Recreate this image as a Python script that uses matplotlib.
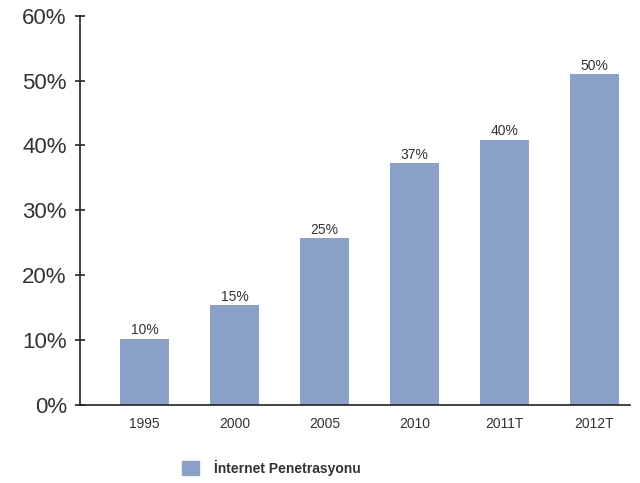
import numpy as np
import matplotlib
matplotlib.use("Agg")
import matplotlib.pyplot as plt
from matplotlib.patches import Patch

plt.rcParams["font.family"] = ["Liberation Sans", "DejaVu Sans"]

years = ["1995", "2000", "2005", "2010", "2011T", "2012T"]
penetration = [10.2, 15.4, 25.7, 37.3, 40.9, 51.0]
bar_labels = ["10%", "15%", "25%", "37%", "40%", "50%"]
series_name = "İnternet Penetrasyonu"

BAR_COLOR = "#8ca1c7"
TEXT = "#333333"

fig = plt.figure(figsize=(6.4, 4.83), dpi=100)
ax = fig.add_axes([0.125, 0.1615, 0.859, 0.806])

x = np.arange(len(years))
bars = ax.bar(x, penetration, width=0.545, color=BAR_COLOR)
ax.bar_label(bars, labels=bar_labels, padding=1, fontsize=10, color=TEXT)

ax.set_xlim(-0.717, 5.394)
ax.set_ylim(0, 60)
ax.set_yticks(range(0, 61, 10))
ax.set_yticklabels([f"{v}%" for v in range(0, 61, 10)])
ax.set_xticks(x)
ax.set_xticklabels(years)

for side in ("top", "right"):
    ax.spines[side].set_visible(False)
for side in ("left", "bottom"):
    ax.spines[side].set_color("#222222")
    ax.spines[side].set_linewidth(1.2)

ax.tick_params(axis="y", direction="inout", length=7, width=1.2,
               color="#222222", labelsize=16, labelcolor=TEXT, pad=6)
ax.tick_params(axis="x", length=0, labelsize=10, labelcolor=TEXT, pad=9)

fig.legend(handles=[Patch(color=BAR_COLOR, label=series_name)],
           loc="center left", bbox_to_anchor=(0.265, 0.032),
           frameon=False, handlelength=1.2, handleheight=1.2,
           handletextpad=1.1,
           prop={"size": 10, "weight": "bold"}, labelcolor=TEXT)

fig.savefig("out.png", dpi=100)
